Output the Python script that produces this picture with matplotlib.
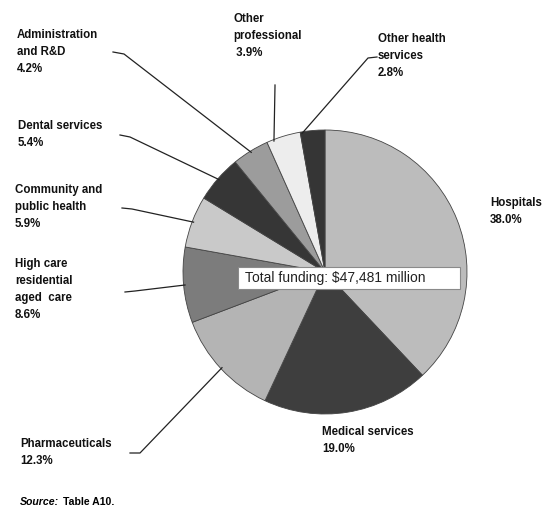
import numpy as np
import matplotlib.pyplot as plt
from matplotlib.patches import Rectangle

# funding shares, clockwise from 12 o'clock
categories = ["Hospitals", "Medical services", "Pharmaceuticals",
              "High care\nresidential\naged  care", "Community and\npublic health",
              "Dental services", "Administration\nand R&D", "Other\nprofessional",
              "Other health\nservices"]
shares = [38.0, 19.0, 12.3, 8.6, 5.9, 5.4, 4.2, 3.9, 2.8]
pct_labels = ["38.0%", "19.0%", "12.3%", "8.6%", "5.9%", "5.4%", "4.2%", " 3.9%", "2.8%"]
total_label = "Total funding: $47,481 million"
source_label = "Table A10."

greys = ["#bcbcbc", "#3e3e3e", "#b4b4b4", "#7c7c7c", "#c9c9c9",
         "#363636", "#9c9c9c", "#ededed", "#353535"]

W, H = 545, 508
cx, cy, R = 325, 272, 142


def Y(y):
    return H - y


fig = plt.figure(figsize=(W / 100, H / 100), dpi=100)
ax = fig.add_axes([0, 0, 1, 1])

wedges, _ = ax.pie(shares, colors=greys, startangle=90, counterclock=False,
                   center=(cx, Y(cy)), radius=R,
                   wedgeprops=dict(edgecolor="#444444", linewidth=0.6))
ax.set_xlim(0, W)
ax.set_ylim(0, H)
ax.set_aspect("auto")
ax.axis("off")

# label text positions (left, top)
label_pos = {
    0: (490, 197),
    1: (322, 426),
    2: (20, 438),
    3: (15, 258),
    4: (15, 184),
    5: (18, 120),
    6: (17, 29),
    7: (233, 13),
    8: (378, 33),
}
# leader lines: start points near the label, and where along the wedge they land
leaders = {
    2: ([(130, 453), (140, 453)], 0.5),
    3: ([(125, 292), (135, 291)], 0.5),
    4: ([(122, 208), (132, 209)], 0.5),
    5: ([(120, 135), (130, 137)], 0.5),
    6: ([(113, 52), (124, 54)], 0.5),
    7: ([(275, 85), (275, 86)], 0.8),
    8: ([(377, 57), (368, 58)], 0.93),
}

for i, w in enumerate(wedges):
    x, y = label_pos[i]
    ax.text(x, Y(y), categories[i] + "\n" + pct_labels[i], ha="left", va="top",
            fontsize=8.3, fontweight="bold", family="Liberation Sans",
            linespacing=1.55, color="#111111")
    if i in leaders:
        pts, f = leaders[i]
        ang = np.deg2rad(w.theta1 + f * (w.theta2 - w.theta1))
        ex = cx + R * 0.99 * np.cos(ang)
        ey = Y(cy) + R * 0.99 * np.sin(ang)
        xs = [p[0] for p in pts] + [ex]
        ys = [Y(p[1]) for p in pts] + [ey]
        ax.plot(xs, ys, color="#222222", lw=0.9)

# total funding box across the centre
ax.add_patch(Rectangle((238, Y(289)), 222, 22, facecolor="white",
                       edgecolor="#8a8a8a", lw=0.8, zorder=3))
ax.text(245, Y(278), total_label, ha="left", va="center", fontsize=10,
        family="Liberation Sans", color="#222222", zorder=4)

ax.text(20, Y(502), "Source:", ha="left", va="center", fontsize=7.6,
        fontweight="bold", fontstyle="italic", family="Liberation Sans")
ax.text(63, Y(502), source_label, ha="left", va="center", fontsize=7.6,
        fontweight="bold", family="Liberation Sans")

fig.savefig("out.png", dpi=100, facecolor="white")
